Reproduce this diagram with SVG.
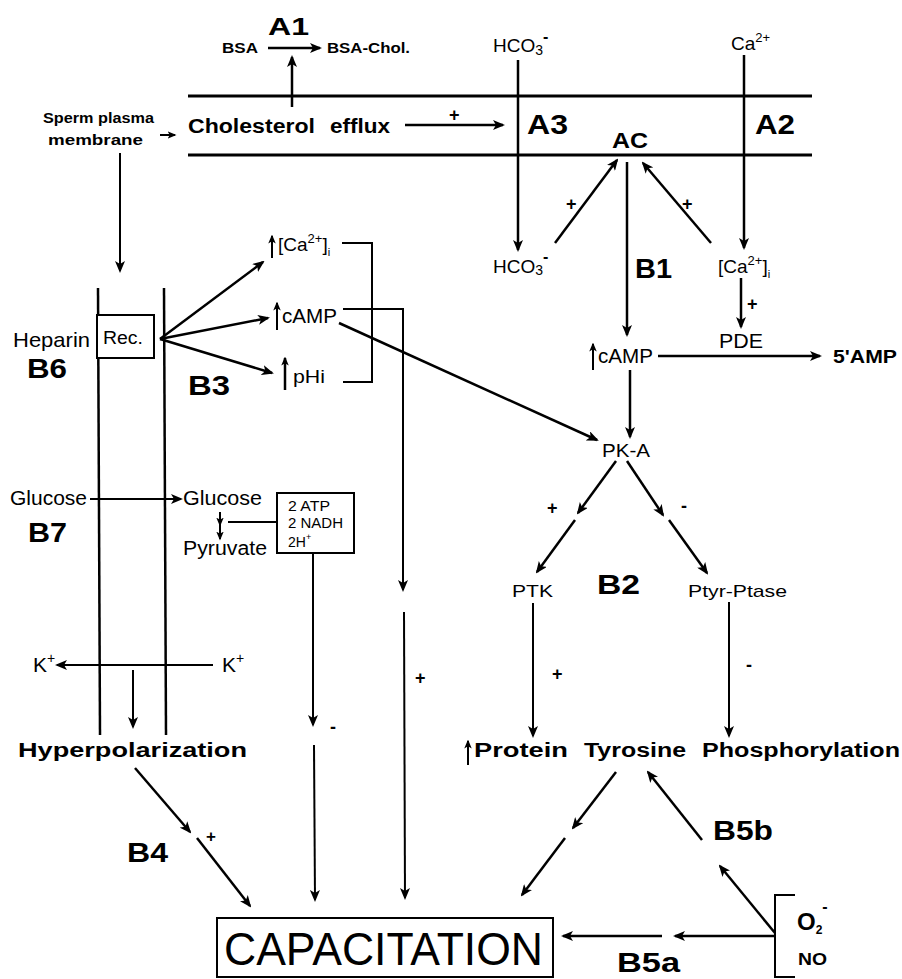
<svg xmlns="http://www.w3.org/2000/svg" width="902" height="979" viewBox="0 0 902 979">
<defs>
<marker id="ah" viewBox="0 0 12 10" refX="10" refY="5" markerWidth="12" markerHeight="10" markerUnits="userSpaceOnUse" orient="auto">
<path d="M0,0 L12,5 L0,10 L3,5 z" fill="#000"/>
</marker>
<marker id="ahs" viewBox="0 0 12 10" refX="10" refY="5" markerWidth="9" markerHeight="8" markerUnits="userSpaceOnUse" orient="auto">
<path d="M0,0 L12,5 L0,10 L3,5 z" fill="#000"/>
</marker>
<style>
text{font-family:"Liberation Sans",Arial,sans-serif;fill:#000}
.b{font-weight:bold}
.lbl{font-weight:bold;font-size:27px}
.c line,.c path,.c polyline{stroke:#000;stroke-width:2.5;fill:none}
.a{marker-end:url(#ah)}
.as{marker-end:url(#ahs)}
.mem{stroke:#000;stroke-width:3}
.box{fill:#fff;stroke:#000;stroke-width:2}
</style>
</defs>
<rect width="902" height="979" fill="#fff"/>

<g id="membrane">
<line class="mem" x1="188" y1="96" x2="812" y2="96"/>
<line class="mem" x1="188" y1="155" x2="812" y2="155"/>
<line class="mem" x1="98" y1="288" x2="100" y2="735" style="stroke-width:2.5"/>
<line class="mem" x1="164" y1="288" x2="166" y2="735" style="stroke-width:2.5"/>
</g>

<g id="connectors" class="c">
<line class="a" x1="268" y1="48" x2="320" y2="48"/>
<line class="a" x1="292" y1="107" x2="292" y2="57"/>
<line class="as" x1="160" y1="135" x2="175" y2="135" style="stroke-width:2"/>
<line class="a" x1="120" y1="153" x2="120" y2="271" style="stroke-width:2"/>
<line class="a" x1="405" y1="125" x2="503" y2="125"/>
<line class="a" x1="518" y1="60" x2="518" y2="250"/>
<line class="a" x1="744" y1="55" x2="744" y2="248"/>
<line class="a" x1="555" y1="243" x2="617" y2="160"/>
<line class="a" x1="711" y1="243" x2="643" y2="163"/>
<line class="a" x1="627" y1="162" x2="627" y2="335"/>
<line class="a" x1="741" y1="278" x2="741" y2="327"/>
<line class="a" x1="658" y1="356" x2="820" y2="356"/>
<line class="a" x1="630" y1="370" x2="630" y2="437"/>
<line class="a" x1="616" y1="461" x2="578" y2="513"/>
<line class="a" x1="575" y1="520" x2="537" y2="572"/>
<line class="a" x1="627" y1="461" x2="663" y2="515"/>
<line class="a" x1="669" y1="520" x2="707" y2="573"/>
<line class="a" x1="533" y1="603" x2="533" y2="736" style="stroke-width:2"/>
<line class="a" x1="729" y1="602" x2="729" y2="736" style="stroke-width:2"/>
<line class="a" x1="616" y1="772" x2="573" y2="828"/>
<line class="a" x1="565" y1="838" x2="522" y2="895"/>
<line class="a" x1="702" y1="840" x2="648" y2="772"/>
<line class="a" x1="775" y1="933" x2="720" y2="866"/>
<line class="a" x1="775" y1="936" x2="675" y2="936"/>
<line class="a" x1="662" y1="936" x2="563" y2="936"/>
<polyline points="795,895 775,895 775,977 795,977" style="stroke-width:2"/>
<line class="a" x1="160" y1="339" x2="263" y2="262"/>
<line class="a" x1="160" y1="339" x2="268" y2="318"/>
<line class="a" x1="160" y1="339" x2="272" y2="373"/>
<line class="as" x1="272" y1="258" x2="272" y2="236" style="stroke-width:2"/>
<line class="as" x1="277" y1="330" x2="277" y2="303" style="stroke-width:2"/>
<line class="as" x1="285" y1="390" x2="285" y2="358" style="stroke-width:2.5"/>
<line class="as" x1="593" y1="370" x2="593" y2="344" style="stroke-width:2"/>
<line class="as" x1="468" y1="765" x2="468" y2="741" style="stroke-width:2"/>
<polyline points="342,243 372,243 372,382 343,382" style="stroke-width:2"/>
<polyline class="a" points="343,309 403,309 403,590" style="stroke-width:2"/>
<line class="a" x1="404" y1="612" x2="405" y2="898" style="stroke-width:2"/>
<line class="a" x1="339" y1="323" x2="597" y2="440"/>
<line class="a" x1="90" y1="499" x2="181" y2="499" style="stroke-width:2"/>
<line class="as" x1="220" y1="512" x2="220" y2="525" style="stroke-width:2"/>
<line class="as" x1="220" y1="525" x2="220" y2="539" style="stroke-width:2"/>
<line x1="228" y1="522" x2="277" y2="522" style="stroke-width:2"/>
<line class="a" x1="313" y1="553" x2="313" y2="725" style="stroke-width:2"/>
<line class="a" x1="314" y1="745" x2="315" y2="900" style="stroke-width:2"/>
<line class="a" x1="213" y1="665" x2="57" y2="665" style="stroke-width:2"/>
<line class="a" x1="133" y1="670" x2="133" y2="727" style="stroke-width:2"/>
<line class="a" x1="135" y1="768" x2="190" y2="832"/>
<line class="a" x1="197" y1="838" x2="250" y2="906"/>
</g>

<g id="n-bsa"><text x="222" y="53" font-size="14" class="b" textLength="36" lengthAdjust="spacingAndGlyphs">BSA</text></g>
<g id="n-bsachol"><text x="327" y="53" font-size="14" class="b" textLength="83" lengthAdjust="spacingAndGlyphs">BSA-Chol.</text></g>
<g id="l-a1"><text x="268" y="35" font-size="23" class="b" textLength="41" lengthAdjust="spacingAndGlyphs">A1</text></g>
<g id="n-sperm"><text x="43" y="123" font-size="14" class="b" textLength="111" lengthAdjust="spacingAndGlyphs">Sperm plasma</text><text x="48" y="145" font-size="14" class="b" textLength="95" lengthAdjust="spacingAndGlyphs">membrane</text></g>
<g id="n-chol"><text x="188" y="133" font-size="20" class="b" textLength="127" lengthAdjust="spacingAndGlyphs">Cholesterol</text><text x="330" y="133" font-size="20" class="b" textLength="60" lengthAdjust="spacingAndGlyphs">efflux</text><text x="449" y="121" font-size="18" class="b">+</text></g>
<g id="n-hco3-out"><text x="493" y="52" font-size="19">HCO<tspan font-size="14" dy="3">3</tspan><tspan font-size="16" dy="-13" class="b">-</tspan></text></g>
<g id="n-ca-out"><text x="731" y="50" font-size="19">Ca<tspan font-size="13" dy="-8">2+</tspan></text></g>
<g id="l-a3"><text x="527" y="134" class="lbl" textLength="41" lengthAdjust="spacingAndGlyphs">A3</text></g>
<g id="l-a2"><text x="755" y="134" class="lbl" textLength="40" lengthAdjust="spacingAndGlyphs">A2</text></g>
<g id="n-ac"><text x="612" y="148" font-size="22" class="b" textLength="36" lengthAdjust="spacingAndGlyphs">AC</text></g>
<g id="n-hco3-in"><text x="493" y="273" font-size="19">HCO<tspan font-size="14" dy="2">3</tspan><tspan font-size="16" dy="-13" class="b">-</tspan></text><text x="566" y="210" font-size="18" class="b">+</text></g>
<g id="n-ca-in"><text x="718" y="273" font-size="19">[Ca<tspan font-size="13" dy="-8">2+</tspan><tspan dy="8">]</tspan><tspan font-size="11" dy="5">i</tspan></text><text x="682" y="210" font-size="18" class="b">+</text></g>
<g id="l-b1"><text x="635" y="278" class="lbl" textLength="37" lengthAdjust="spacingAndGlyphs">B1</text></g>
<g id="n-pde"><text x="719" y="348" font-size="20" textLength="44" lengthAdjust="spacingAndGlyphs">PDE</text><text x="747" y="310" font-size="18" class="b">+</text></g>
<g id="n-camp-r"><text x="598" y="363" font-size="20" textLength="55" lengthAdjust="spacingAndGlyphs">cAMP</text></g>
<g id="n-5amp"><text x="833" y="363" font-size="19" class="b" textLength="64" lengthAdjust="spacingAndGlyphs">5'AMP</text></g>
<g id="n-pka"><text x="602" y="457" font-size="19" textLength="48" lengthAdjust="spacingAndGlyphs">PK-A</text></g>
<g id="n-ptk"><text x="512" y="597" font-size="17" textLength="41" lengthAdjust="spacingAndGlyphs">PTK</text><text x="547" y="514" font-size="18" class="b">+</text><text x="552" y="680" font-size="18" class="b">+</text></g>
<g id="l-b2"><text x="597" y="594" class="lbl" textLength="43" lengthAdjust="spacingAndGlyphs">B2</text></g>
<g id="n-ptase"><text x="688" y="597" font-size="17" textLength="99" lengthAdjust="spacingAndGlyphs">Ptyr-Ptase</text><text x="681" y="512" font-size="18" class="b">-</text><text x="746" y="671" font-size="18" class="b">-</text></g>
<g id="n-ptp"><text x="474" y="757" font-size="20" class="b" textLength="94" lengthAdjust="spacingAndGlyphs">Protein</text><text x="584" y="757" font-size="20" class="b" textLength="102" lengthAdjust="spacingAndGlyphs">Tyrosine</text><text x="702" y="757" font-size="20" class="b" textLength="198" lengthAdjust="spacingAndGlyphs">Phosphorylation</text></g>
<g id="l-b5b"><text x="713" y="840" class="lbl" textLength="60" lengthAdjust="spacingAndGlyphs">B5b</text></g>
<g id="n-ros"><text x="797" y="930" font-size="24" class="b">O<tspan font-size="12" dy="4">2</tspan><tspan font-size="16" dy="-22">-</tspan></text><text x="798" y="965" font-size="17" class="b" textLength="29" lengthAdjust="spacingAndGlyphs">NO</text></g>
<g id="l-b5a"><text x="617" y="972" class="lbl" textLength="63" lengthAdjust="spacingAndGlyphs">B5a</text></g>
<g id="n-capacitation"><rect class="box" x="217" y="918" width="336" height="59"/><text x="224" y="965" font-size="46" textLength="319" lengthAdjust="spacingAndGlyphs">CAPACITATION</text></g>

<g id="n-heparin"><text x="13" y="347" font-size="21" textLength="77" lengthAdjust="spacingAndGlyphs">Heparin</text></g>
<g id="n-rec"><rect class="box" x="97" y="315" width="57" height="43"/><text x="103" y="344" font-size="18" textLength="40" lengthAdjust="spacingAndGlyphs">Rec.</text></g>
<g id="l-b6"><text x="27" y="378" class="lbl" textLength="40" lengthAdjust="spacingAndGlyphs">B6</text></g>
<g id="l-b3"><text x="188" y="395" class="lbl" textLength="42" lengthAdjust="spacingAndGlyphs">B3</text></g>
<g id="n-ca-l"><text x="278" y="251" font-size="19">[Ca<tspan font-size="13" dy="-8">2+</tspan><tspan dy="8">]</tspan><tspan font-size="11" dy="5">i</tspan></text></g>
<g id="n-camp-l"><text x="282" y="323" font-size="20" textLength="55" lengthAdjust="spacingAndGlyphs">cAMP</text></g>
<g id="n-phi"><text x="293" y="383" font-size="19" textLength="32" lengthAdjust="spacingAndGlyphs">pHi</text></g>
<g id="n-glucose-out"><text x="10" y="505" font-size="20" textLength="77" lengthAdjust="spacingAndGlyphs">Glucose</text></g>
<g id="l-b7"><text x="28" y="542" class="lbl" textLength="39" lengthAdjust="spacingAndGlyphs">B7</text></g>
<g id="n-glucose-in"><text x="183" y="505" font-size="20" textLength="79" lengthAdjust="spacingAndGlyphs">Glucose</text></g>
<g id="n-pyruvate"><text x="183" y="555" font-size="20" textLength="84" lengthAdjust="spacingAndGlyphs">Pyruvate</text></g>
<g id="n-atp"><rect class="box" x="277" y="493" width="77" height="60"/><text x="288" y="511" font-size="14" textLength="42" lengthAdjust="spacingAndGlyphs">2 ATP</text><text x="288" y="528" font-size="14" textLength="55" lengthAdjust="spacingAndGlyphs">2 NADH</text><text x="288" y="547" font-size="14">2H<tspan font-size="9" dy="-7">+</tspan></text><text x="330" y="733" font-size="18" class="b">-</text><text x="415" y="684" font-size="18" class="b">+</text></g>
<g id="n-k-in"><text x="33" y="672" font-size="21">K<tspan font-size="14" dy="-9">+</tspan></text></g>
<g id="n-k-out"><text x="222" y="672" font-size="21">K<tspan font-size="14" dy="-9">+</tspan></text></g>
<g id="n-hyper"><text x="18" y="757" font-size="20" class="b" textLength="229" lengthAdjust="spacingAndGlyphs">Hyperpolarization</text></g>
<g id="l-b4"><text x="127" y="862" class="lbl" textLength="41" lengthAdjust="spacingAndGlyphs">B4</text><text x="206" y="842" font-size="17" class="b">+</text></g>
</svg>
